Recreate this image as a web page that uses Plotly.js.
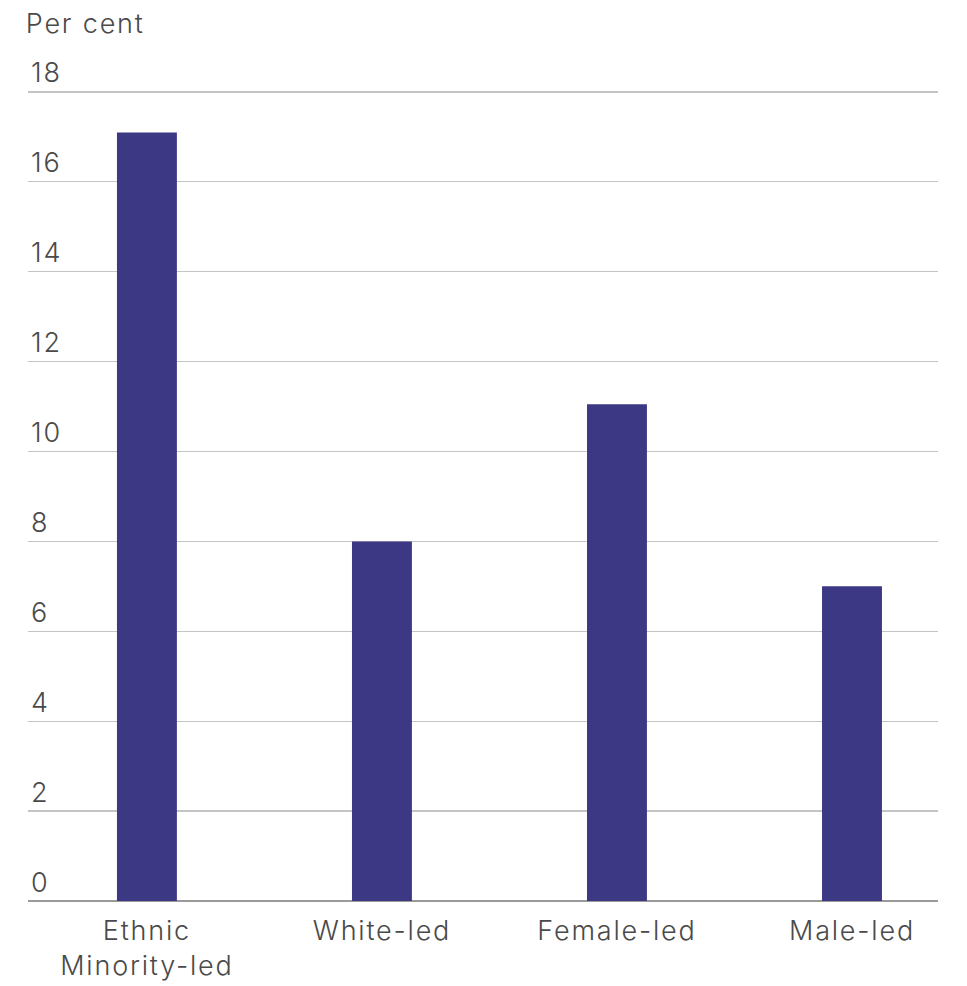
<!DOCTYPE html>
<html>
<head>
<meta charset="utf-8">
<script src="https://cdn.plot.ly/plotly-3.0.1.min.js"></script>
<style>
html,body{margin:0;padding:0;background:#fff;}
#chart{width:967px;height:986px;}
#chart .xtick text, #chart .ytick text, #chart .annotation-text{letter-spacing:1.8px;}
</style>
</head>
<body>
<div id="chart"></div>
<script>
var categories = ["Ethnic<br>Minority-led", "White-led", "Female-led", "Male-led"];
var values = [17.1, 8.0, 11.05, 7.0];
var yTicks = [0, 2, 4, 6, 8, 10, 12, 14, 16, 18];

var fontFamily = "Inter, 'Open Sans', sans-serif";
var textColor = "#4a4a4a";

var trace = {
  type: "bar",
  x: [0, 1, 2, 3],
  y: values,
  marker: {color: "#3c3884"},
  width: 0.255,
  hoverinfo: "skip"
};

var layout = {
  width: 967,
  height: 986,
  margin: {l: 28, r: 29, t: 38, b: 85},
  paper_bgcolor: "#ffffff",
  plot_bgcolor: "#ffffff",
  showlegend: false,
  font: {family: fontFamily, color: textColor, size: 27, weight: 300},
  xaxis: {
    range: [-0.506, 3.366],
    tickmode: "array",
    tickvals: [0, 1, 2, 3],
    ticktext: categories,
    showgrid: false,
    zeroline: false,
    showline: false,
    ticks: "",
    ticklabelstandoff: 11,
    tickfont: {family: fontFamily, color: textColor, size: 27, weight: 300},
    fixedrange: true
  },
  yaxis: {
    range: [0, 19.2],
    tickmode: "array",
    tickvals: yTicks,
    ticktext: yTicks.map(String),
    ticklabelposition: "inside top",
    showgrid: true,
    gridcolor: "#c4c4c4",
    gridwidth: 1.3,
    zeroline: true,
    zerolinecolor: "#9a9a9a",
    zerolinewidth: 1.3,
    showline: false,
    ticks: "",
    tickfont: {family: fontFamily, color: textColor, size: 27, weight: 300},
    fixedrange: true
  },
  annotations: [{
    text: "Per cent",
    xref: "paper", yref: "paper",
    x: 0, y: 1, xanchor: "left", yanchor: "bottom",
    xshift: 3, yshift: -4,
    showarrow: false,
    font: {family: fontFamily, color: textColor, size: 27, weight: 300}
  }]
};

Plotly.newPlot("chart", [trace], layout, {displayModeBar: false, staticPlot: true});
</script>
</body>
</html>
